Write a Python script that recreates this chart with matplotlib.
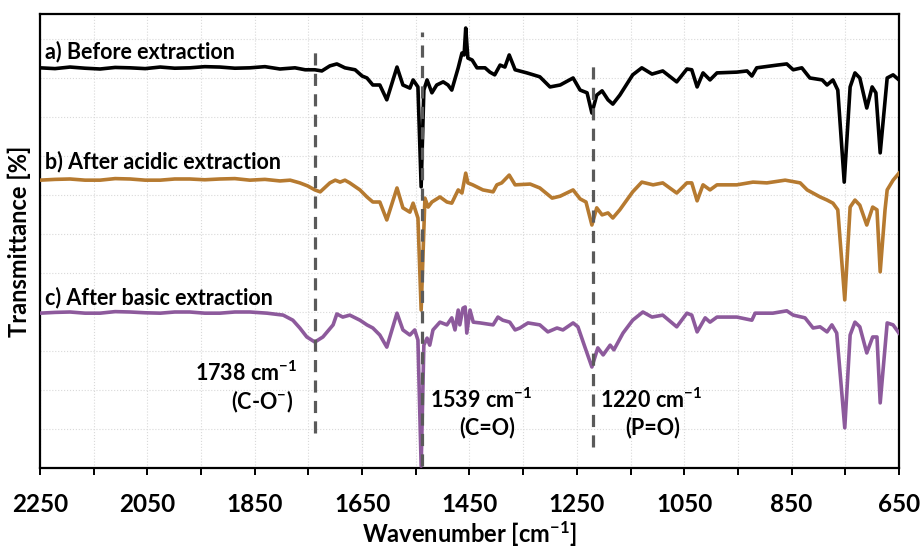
import matplotlib.pyplot as plt
from matplotlib.ticker import FixedLocator

# FTIR spectra, offset vertically (arbitrary transmittance units)
wn_a = [2250, 2222, 2194, 2166, 2138, 2110, 2082, 2054, 2026, 1999, 1971, 1943, 1915, 1887,
        1859, 1831, 1803, 1775, 1756, 1738, 1725, 1710,
        1697, 1682, 1663, 1650, 1641, 1630, 1617, 1604, 1585, 1574, 1561, 1555, 1546, 1540,
        1535, 1529, 1520, 1511, 1499, 1490, 1483, 1471, 1464, 1460, 1457, 1453, 1445, 1436,
        1421, 1412, 1403, 1393, 1384, 1376, 1365, 1343, 1319, 1300, 1281, 1257, 1244, 1231,
        1222, 1213, 1203, 1192, 1183, 1170, 1146, 1129, 1110, 1090, 1064, 1045, 1036, 1026,
        1015, 1002, 989, 952, 933, 924, 915, 877, 859, 847, 831, 816, 793, 784, 773, 764,
        752, 741, 732, 723, 710, 700, 693, 685, 672, 661, 650]
t_a = [10.26, 10.24, 10.28, 10.25, 10.23, 10.27, 10.26, 10.24, 10.28, 10.25, 10.26, 10.29,
       10.28, 10.25, 10.26, 10.29, 10.23, 10.26, 10.21, 10.21,
       10.18, 10.31, 10.36, 10.26, 10.21, 10.05, 10.00, 9.82, 9.82, 9.44, 10.28, 9.82, 9.74,
       9.95, 9.77, 7.21, 9.69, 9.95, 9.62, 9.82, 9.90, 9.82, 9.69, 10.26, 10.64, 10.59, 11.28,
       10.51, 10.46, 10.26, 10.26, 10.15, 10.08, 10.33, 10.28, 10.59, 10.21, 10.13, 10.03,
       9.77, 9.82, 10.00, 9.69, 9.62, 9.10, 9.56, 9.67, 9.44, 9.33, 9.56, 10.08, 10.26, 10.10,
       10.18, 9.90, 10.23, 10.21, 9.77, 10.13, 9.95, 10.13, 10.15, 10.18, 10.05, 10.26, 10.33,
       10.36, 10.21, 10.26, 10.00, 9.95, 9.82, 9.95, 9.69, 7.33, 9.77, 10.13, 10.00, 9.23,
       9.77, 9.62, 8.08, 10.00, 10.08, 9.95]

wn_b = [2250, 2222, 2194, 2166, 2138, 2110, 2082, 2054, 2026, 1999, 1971, 1943, 1915, 1887,
        1859, 1831, 1803, 1784, 1766, 1751, 1738, 1728,
        1710, 1700, 1691, 1682, 1673, 1654, 1641, 1630, 1617, 1604, 1585, 1574, 1561, 1555,
        1546, 1540, 1533, 1527, 1520, 1505, 1492, 1483, 1471, 1464, 1457, 1453, 1444, 1425,
        1406, 1399, 1390, 1376, 1365, 1337, 1319, 1296, 1281, 1257, 1244, 1233, 1222, 1213,
        1203, 1192, 1183, 1170, 1157, 1146, 1129, 1108, 1090, 1064, 1045, 1036, 1026, 1015,
        1002, 989, 952, 922, 896, 862, 834, 821, 797, 784, 773, 764, 751, 741, 732, 723, 710,
        699, 691, 685, 676, 672, 661, 650]
t_b = [7.38, 7.40, 7.41, 7.38, 7.38, 7.42, 7.41, 7.38, 7.38, 7.41, 7.41, 7.39, 7.41, 7.42,
       7.38, 7.40, 7.36, 7.38, 7.31, 7.23, 7.13, 7.08,
       7.31, 7.38, 7.33, 7.38, 7.31, 7.13, 6.95, 6.82, 6.82, 6.36, 7.18, 6.67, 6.56, 6.79,
       6.41, 4.05, 6.92, 6.69, 6.82, 6.95, 6.82, 6.79, 7.13, 7.05, 7.56, 7.31, 7.26, 7.13,
       7.08, 7.26, 7.31, 7.51, 7.26, 7.28, 7.18, 6.92, 6.97, 7.13, 6.90, 6.82, 6.23, 6.67,
       6.49, 6.54, 6.41, 6.62, 6.87, 7.08, 7.33, 7.26, 7.31, 7.05, 7.31, 7.31, 6.85, 7.26,
       7.13, 7.26, 7.26, 7.33, 7.31, 7.38, 7.31, 7.13, 6.95, 6.87, 6.79, 6.62, 4.31, 6.69,
       6.87, 6.74, 6.23, 6.69, 6.62, 5.03, 6.62, 7.13, 7.38, 7.56]

wn_c = [2250, 2222, 2194, 2166, 2138, 2110, 2082, 2054, 2026, 1999, 1971, 1943, 1915, 1887,
        1859, 1827, 1797, 1779, 1766, 1753, 1738,
        1723, 1704, 1697, 1686, 1673, 1654, 1641, 1630, 1617, 1604, 1585, 1574, 1561, 1552,
        1546, 1540, 1535, 1529, 1524, 1518, 1505, 1492, 1483, 1477, 1471, 1468, 1462, 1458,
        1455, 1449, 1443, 1430, 1406, 1397, 1388, 1375, 1365, 1356, 1341, 1319, 1304, 1287,
        1276, 1257, 1248, 1235, 1222, 1211, 1201, 1188, 1181, 1164, 1146, 1127, 1110, 1090,
        1064, 1045, 1036, 1026, 1011, 1002, 989, 952, 924, 918, 885, 859, 847, 825, 810, 797,
        784, 775, 766, 751, 741, 732, 723, 710, 699, 691, 685, 672, 661, 650]
t_c = [3.97, 3.99, 4.00, 3.97, 3.97, 4.01, 4.00, 3.98, 3.97, 4.00, 4.00, 3.97, 3.97, 4.00,
       4.00, 3.97, 3.92, 3.79, 3.59, 3.36, 3.23,
       3.36, 3.67, 3.95, 3.87, 3.92, 3.79, 3.67, 3.59, 3.41, 3.10, 3.97, 3.54, 3.41, 3.54,
       3.28, 0.05, 3.15, 3.33, 3.15, 3.54, 3.74, 3.67, 3.85, 3.54, 4.05, 3.67, 4.10, 4.13,
       3.46, 4.05, 3.74, 3.72, 3.67, 3.87, 3.79, 3.74, 3.54, 3.59, 3.72, 3.67, 3.49, 3.59,
       3.54, 3.72, 3.62, 3.10, 2.59, 3.08, 2.90, 3.15, 3.03, 3.46, 3.79, 4.00, 3.87, 3.92,
       3.62, 3.97, 3.92, 3.49, 3.85, 3.74, 3.87, 3.87, 3.79, 3.97, 3.97, 4.03, 3.92, 3.85,
       3.59, 3.62, 3.49, 3.67, 3.46, 1.03, 3.41, 3.74, 3.62, 2.95, 3.36, 3.36, 1.67, 3.72,
       3.67, 3.46]

trace_labels = ["a) Before extraction", "b) After acidic extraction", "c) After basic extraction"]
trace_colors = ["#000000", "#B67A30", "#8D5A9C"]

# marked bands: position, dashed line extent, annotation text
band_wn = [1738, 1539, 1220]
band_top = [10.74, 11.18, 10.33]
band_bottom = [0.90, 0.05, 0.54]
band_value = ["1738 cm$^{-1}$", "1539 cm$^{-1}$", "1220 cm$^{-1}$"]
band_group = ["(C-O$^{-}$)", "(C=O)", "(P=O)"]

x_major = list(range(2250, 649, -200))
x_minor = list(range(2150, 649, -200))

plt.rcParams["font.family"] = ["Lato", "DejaVu Sans"]
plt.rcParams["font.weight"] = "bold"
plt.rcParams["mathtext.fontset"] = "custom"
plt.rcParams["mathtext.rm"] = "Lato:bold"
plt.rcParams["mathtext.bf"] = "Lato:bold"
plt.rcParams["mathtext.default"] = "rm"

fig = plt.figure(figsize=(9.21, 5.49), dpi=100)
ax = fig.add_axes([0.0434, 0.1475, 0.9327, 0.827])

for wn, t, color in zip([wn_a, wn_b, wn_c], [t_a, t_b, t_c], trace_colors):
    ax.plot(wn, t, color=color, lw=2.6, solid_joinstyle="round", zorder=3)

ax.vlines(band_wn, band_bottom, band_top, colors="#5a5a5a", lw=2.3,
          linestyles=(0, (3.8, 2.6)), zorder=4)

label_y = [10.67, 7.85, 4.38]
for text, y in zip(trace_labels, label_y):
    ax.text(2241, y, text, fontsize=15.5, fontweight="bold", va="center", ha="left")

fs = 15.5
ax.text(1771, 2.44, band_value[0], fontsize=fs, fontweight="bold", ha="right", va="center")
ax.text(1837, 1.69, band_group[0], fontsize=fs, fontweight="bold", ha="center", va="center")
ax.text(1524, 1.74, band_value[1], fontsize=fs, fontweight="bold", ha="left", va="center")
ax.text(1417, 1.03, band_group[1], fontsize=fs, fontweight="bold", ha="center", va="center")
ax.text(1207, 1.74, band_value[2], fontsize=fs, fontweight="bold", ha="left", va="center")
ax.text(1108, 1.03, band_group[2], fontsize=fs, fontweight="bold", ha="center", va="center")

ax.set_xlim(2250, 650)
ax.set_ylim(0, 11.64)
ax.xaxis.set_major_locator(FixedLocator(x_major))
ax.xaxis.set_minor_locator(FixedLocator(x_minor))
ax.yaxis.set_major_locator(FixedLocator(range(1, 12)))
ax.set_yticklabels([])
ax.tick_params(axis="y", length=0)
ax.tick_params(axis="x", which="both", direction="out", length=5, width=1.4, pad=13,
               labelsize=17.5)
ax.grid(True, which="both", color="#d9d9d9", lw=0.8, ls=":")
ax.set_axisbelow(True)
for side in ax.spines.values():
    side.set_linewidth(1.6)

ax.set_xlabel("Wavenumber [cm$^{-1}$]", fontsize=17, fontweight="bold", va="center")
ax.xaxis.set_label_coords(0.5, -0.146)
ax.set_ylabel("Transmittance [%]", fontsize=17, fontweight="bold", va="center")
ax.yaxis.set_label_coords(-0.024, 0.5)

fig.savefig("out.png", dpi=100)
